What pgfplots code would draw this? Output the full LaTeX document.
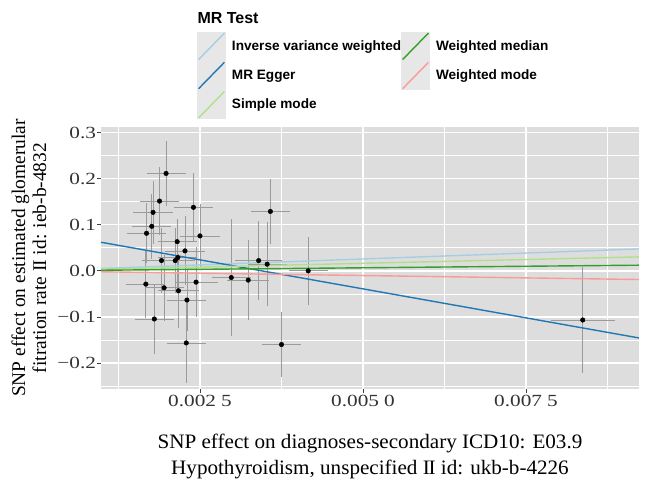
\documentclass[border=0pt]{standalone}
\usepackage{fontspec}
\setmainfont{Liberation Serif}
\newfontfamily\tickfont[FakeStretch=1.25]{Liberation Serif}
\newfontfamily\labfont[FakeStretch=1.03]{Liberation Serif}
\newfontfamily\legfont{Liberation Sans}
\usepackage{pgfplots}
\usepackage{pgfplotstable}
\pgfplotsset{compat=1.18}

\definecolor{panel}{RGB}{222,221,222}
\definecolor{keybg}{RGB}{231,231,231}
\definecolor{errgray}{RGB}{155,155,155}
\definecolor{ivw}{HTML}{A6CEE3}
\definecolor{egger}{HTML}{1F78B4}
\definecolor{smode}{HTML}{B2DF8A}
\definecolor{wmed}{HTML}{33A02C}
\definecolor{wmode}{HTML}{FB9A99}

% SNP effects (exposure x, outcome y) with standard errors
\pgfplotstableread{
x       y        xe       ye
0.00198  0.2115  0.00030  0.071
0.00188  0.1515  0.00030  0.074
0.00178  0.1270  0.00030  0.068
0.00176  0.0967  0.00030  0.070
0.00168  0.0816  0.00030  0.065
0.00240  0.1380  0.00030  0.074
0.00250  0.0758  0.00030  0.070
0.00215  0.0634  0.00030  0.050
0.00227  0.0433  0.00031  0.075
0.00191  0.0223  0.00030  0.070
0.00212  0.0223  0.00030  0.070
0.00216  0.0288  0.00030  0.070
0.00167 -0.0288  0.00030  0.074
0.00195 -0.0368  0.00030  0.072
0.00217 -0.0433  0.00031  0.080
0.00244 -0.0245  0.00033  0.076
0.00230 -0.0634  0.00030  0.068
0.00180 -0.1045  0.00030  0.075
0.00229 -0.1565  0.00030  0.0866
0.00298 -0.0145  0.00030  0.128
0.00324 -0.0201  0.00032  0.0866
0.00340  0.0223  0.00036  0.0866
0.00353  0.0145  0.00030  0.091
0.00358  0.1290  0.00030  0.0714
0.00375 -0.1600  0.00030  0.070
0.00416  0.0000  0.00030  0.0736
0.00837 -0.1067  0.00049  0.115
}\snps

\begin{document}
\begin{tikzpicture}
\useasboundingbox (-101pt,-91pt) rectangle (545pt,389pt);
\begin{axis}[
  scale only axis, width=538pt, height=262pt,
  xmin=0.000982, xmax=0.009233, ymin=-0.2565, ymax=0.3123,
  axis background/.style={fill=panel},
  axis line style={draw=none},
  xtick={0.0025,0.005,0.0075},
  xticklabels={0.002\hspace{0.3em}5,0.005\hspace{0.3em}0,0.007\hspace{0.3em}5},
  ytick={-0.2,-0.1,0,0.1,0.2,0.3},
  yticklabels={−0.2,−0.1,0.0,0.1,0.2,0.3},
  minor xtick={0.00125,0.00375,0.00625,0.00875},
  minor ytick={-0.25,-0.15,-0.05,0.05,0.15,0.25},
  scaled x ticks=false, scaled y ticks=false,
  grid=both,
  major grid style={white, line width=1.3pt},
  minor grid style={white, line width=0.7pt},
  tick align=outside, xtick pos=bottom, ytick pos=left,
  major tick length=3.5pt, minor tick length=0pt,
  tick style={black!75, line width=0.8pt},
  ticklabel style={font=\tickfont\fontsize{17}{17}\selectfont, text=black!80},
  yticklabel style={xshift=2pt},
  xticklabel style={yshift=1pt},
  xlabel={SNP effect on diagnoses-secondary ICD10: E03.9\\Hypothyroidism, unspecified I\kern-1.2ptI id: ukb-b-4226},
  xlabel style={align=center, inner sep=0pt, anchor=north,
    at={(axis description cs:0.5,-0.1725)},
    font=\labfont\fontsize{20.5}{26}\selectfont},
  ylabel={SNP effect on estimated glomerular\\fitration rate I\kern-1.1ptI id: ieb-b-4832},
  ylabel style={align=center, inner sep=0pt, anchor=south,
    at={(axis description cs:-0.1009,0.5)},
    font=\rmfamily\fontsize{19.4}{21}\selectfont},
  legend columns=3, transpose legend,
  legend cell align=left,
  legend style={at={(axis description cs:0.179,1.3637)}, anchor=north west,
    draw=none, fill=none, inner sep=0pt, outer sep=0pt,
    row sep=0pt, column sep=0pt,
    nodes={inner sep=0pt},
    font=\legfont\bfseries\fontsize{13.6}{13.6}\selectfont},
  legend image code/.code={
    \fill[keybg] (0pt,-13.9pt) rectangle (27pt,13.9pt);
    \draw[#1] (0.6pt,-13.2pt) -- (26.4pt,13.2pt);
    \path[draw=none, fill=none] (0pt,-3pt) rectangle (34pt,-3pt);},
]
\addplot[only marks, mark=*, mark size=2.3pt, black, forget plot,
  error bars/.cd, x dir=both, x explicit, y dir=both, y explicit,
  error mark=none, error bar style={errgray, line width=0.8pt}]
  table[x=x, y=y, x error=xe, y error=ye] {\snps};

\addplot[ivw, line width=1.4pt] coordinates {(0.000982,0.00506) (0.009233,0.0476)};
\addlegendentry{Inverse variance weighted}
\addplot[egger, line width=1.4pt] coordinates {(0.000982,0.0621) (0.009233,-0.1457)};
\addlegendentry{MR Egger}
\addplot[smode, line width=1.4pt] coordinates {(0.000982,0.0032) (0.009233,0.0303)};
\addlegendentry{Simple mode}
\addplot[wmed, line width=1.4pt] coordinates {(0.000982,0.0013) (0.009233,0.0123)};
\addlegendentry{Weighted median}
\addplot[wmode, line width=1.4pt] coordinates {(0.000982,-0.0020) (0.009233,-0.0188)};
\addlegendentry{Weighted mode}
\end{axis}
\node[anchor=base west, inner sep=0pt, font=\legfont\bfseries\fontsize{16}{16}\selectfont]
  at (96.3pt,365.7pt) {MR Test};
\end{tikzpicture}
\end{document}
